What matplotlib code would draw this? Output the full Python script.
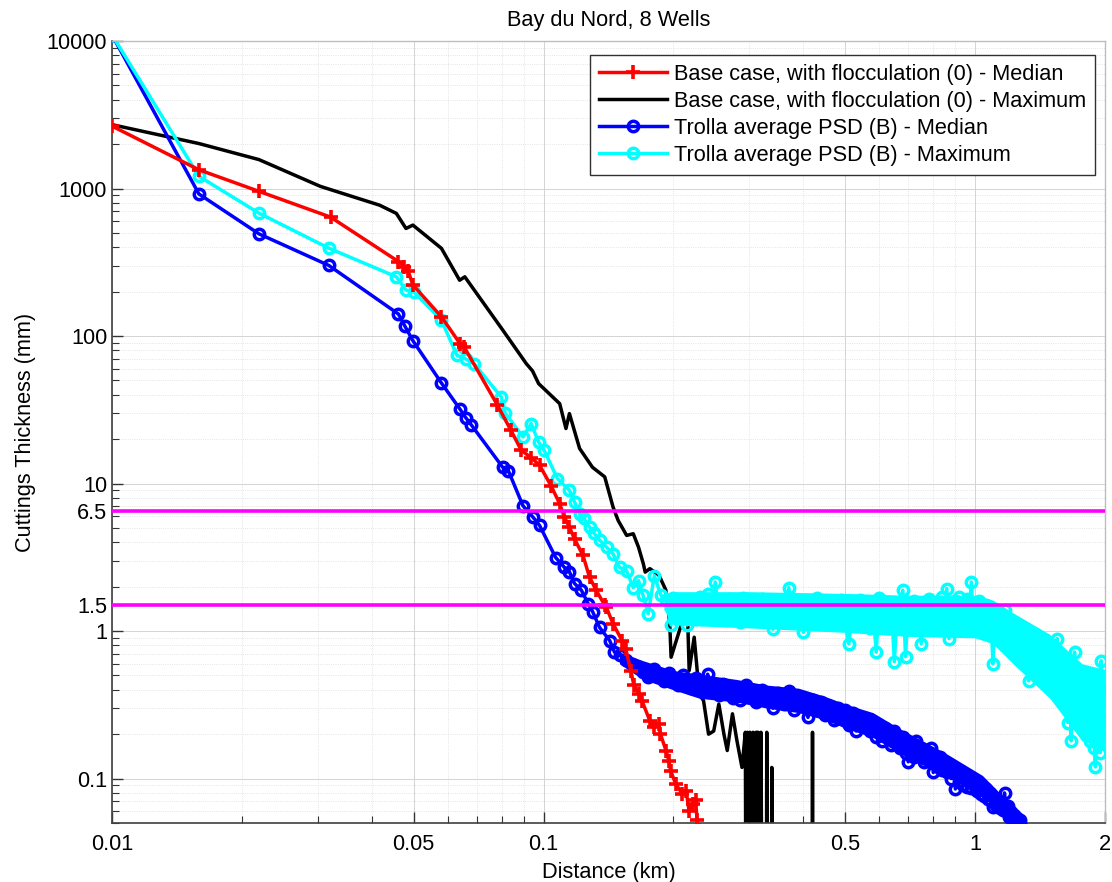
"""Cuttings thickness vs distance, Bay du Nord 8 wells (log-log)."""

import matplotlib
matplotlib.use("Agg")
import matplotlib.pyplot as plt
from matplotlib.ticker import NullFormatter, LogLocator

plt.rcParams["font.family"] = ["Liberation Sans", "DejaVu Sans"]

# ------------------------------------------------------------------
# Data
# ------------------------------------------------------------------

red_x = [0.0100, 0.0159, 0.0219, 0.0321, 0.0461, 0.0476, 0.0486, 0.0498, 0.0580, 0.0640,
         0.0655, 0.0782, 0.0840, 0.0888, 0.0936, 0.0979, 0.1040, 0.1090, 0.1118, 0.1148,
         0.1180, 0.1234, 0.1278, 0.1324, 0.1386, 0.1398, 0.1449, 0.1520, 0.1550, 0.1593,
         0.1620, 0.1663, 0.1690, 0.1763, 0.1806, 0.1850, 0.1866, 0.1922, 0.1952, 0.1970,
         0.2024, 0.2098, 0.2140, 0.2175, 0.2218, 0.2250, 0.2270, 0.2290]
red_y = [2650, 1340, 957, 640, 320, 296, 274, 222, 135, 89,
         84, 34, 23, 16.8, 15.0, 13.3, 9.7, 7.3, 5.9, 5.07,
         4.2, 3.26, 2.32, 1.89, 1.50, 1.45, 1.12, 0.863, 0.759, 0.54,
         0.428, 0.375, 0.338, 0.247, 0.223, 0.235, 0.200, 0.155, 0.132, 0.113,
         0.092, 0.0787, 0.0826, 0.0600, 0.0675, 0.0712, 0.0520, 0.045]

black_x = [0.0100, 0.0159, 0.0219, 0.0304, 0.0417, 0.0456, 0.0480, 0.0498, 0.0580, 0.0639,
           0.0657, 0.0804, 0.0912, 0.0943, 0.0974, 0.1090, 0.1127, 0.1148, 0.1212, 0.1298,
           0.1386, 0.1449, 0.1489, 0.1558, 0.1614, 0.1660, 0.1703, 0.1720, 0.1763, 0.1850,
           0.1920, 0.1960, 0.1975, 0.2084, 0.2158, 0.2175, 0.2234, 0.2270, 0.2290, 0.2348,
           0.2412, 0.2479, 0.2548, 0.2618, 0.2665, 0.2740, 0.2806, 0.2883, 0.2935, 0.2950,
           0.2970, 0.2990, 0.3010, 0.3040, 0.3060, 0.3090, 0.3110, 0.3140, 0.3160, 0.3190,
           0.3220, 0.3280, 0.3290, 0.3310, 0.3370, 0.3380, 0.3400, 0.4180, 0.4200, 0.4220]
black_y = [2710, 2018, 1571, 1034, 771, 678, 536, 565, 393, 239,
           252, 110, 65, 58, 47.6, 34.8, 23.6, 29.8, 17.3, 12.9,
           11.1, 6.93, 5.62, 4.45, 4.57, 3.70, 2.86, 2.51, 2.65, 2.40,
           1.90, 1.15, 0.665, 1.10, 1.18, 0.54, 0.909, 0.54, 0.375, 0.338,
           0.200, 0.210, 0.320, 0.200, 0.155, 0.275, 0.181, 0.119, 0.206, 0.001,
           0.206, 0.001, 0.206, 0.001, 0.206, 0.001, 0.206, 0.206, 0.001, 0.206,
           0.001, 0.001, 0.206, 0.001, 0.001, 0.119, 0.001, 0.001, 0.206, 0.001]

blue_x = [0.0100, 0.0159, 0.0219, 0.0318, 0.0461, 0.0477, 0.0498, 0.0580, 0.0640, 0.0660,
          0.0680, 0.0804, 0.0829, 0.0896, 0.0946, 0.0979, 0.1067, 0.1118, 0.1148, 0.1180,
          0.1224, 0.1269, 0.1300, 0.1348, 0.1423, 0.1460,
          0.150, 0.155, 0.160, 0.165, 0.170, 0.175, 0.180, 0.185, 0.190, 0.195,
          0.200, 0.205, 0.210, 0.215, 0.220, 0.225, 0.230, 0.235, 0.240, 0.245,
          0.250, 0.255, 0.260, 0.265, 0.270, 0.275, 0.280, 0.285, 0.290, 0.295,
          0.300,
          0.31, 0.32, 0.33, 0.34, 0.35, 0.36, 0.37, 0.38, 0.39, 0.40,
          0.41, 0.42, 0.43, 0.44, 0.45, 0.46, 0.47, 0.48, 0.49, 0.50,
          0.51, 0.52, 0.53, 0.54, 0.55, 0.56, 0.57, 0.58, 0.59, 0.60,
          0.61, 0.62, 0.63, 0.64, 0.65, 0.66, 0.67, 0.68, 0.69, 0.70,
          0.71, 0.72, 0.73, 0.74, 0.75, 0.76, 0.77, 0.78, 0.79, 0.80,
          0.81, 0.82, 0.83, 0.84, 0.85, 0.86, 0.87, 0.88, 0.89, 0.90,
          0.91, 0.92, 0.93, 0.94, 0.95, 0.96, 0.97, 0.98, 0.99, 1.00,
          1.01, 1.02, 1.03, 1.04, 1.05, 1.06, 1.07, 1.08, 1.09, 1.10,
          1.11, 1.12, 1.13, 1.14, 1.15, 1.16, 1.17, 1.18, 1.19, 1.20,
          1.21, 1.22, 1.23, 1.24, 1.25, 1.26, 1.27, 1.28]
blue_y = [11000, 918, 493, 301, 141, 117, 93, 48, 32, 28,
          25, 12.9, 12.2, 7.07, 5.9, 5.2, 3.15, 2.7, 2.52, 2.1,
          1.89, 1.53, 1.35, 1.06, 0.863, 0.72,
          0.69, 0.64, 0.60, 0.57, 0.53, 0.49, 0.55, 0.50, 0.46, 0.52,
          0.47, 0.43, 0.50, 0.44, 0.41, 0.48, 0.42, 0.39, 0.51, 0.44,
          0.41, 0.37, 0.44, 0.38, 0.42, 0.35, 0.40, 0.34, 0.39, 0.43,
          0.37,
          0.33, 0.40, 0.35, 0.30, 0.38, 0.32, 0.39, 0.29, 0.36, 0.31,
          0.26, 0.34, 0.29, 0.33, 0.27, 0.31, 0.25, 0.30, 0.27, 0.29,
          0.23, 0.28, 0.21, 0.26, 0.23, 0.25, 0.21, 0.24, 0.19, 0.23,
          0.18, 0.22, 0.19, 0.17, 0.21, 0.18, 0.16, 0.19, 0.15, 0.13,
          0.17, 0.14, 0.18, 0.15, 0.16, 0.13, 0.155, 0.14, 0.16, 0.11,
          0.135, 0.12, 0.14, 0.115, 0.13, 0.11, 0.125, 0.10, 0.12, 0.085,
          0.11, 0.095, 0.107, 0.09, 0.105, 0.088, 0.10, 0.086, 0.097, 0.09,
          0.083, 0.092, 0.079, 0.089, 0.076, 0.085, 0.073, 0.08, 0.07, 0.064,
          0.074, 0.066, 0.071, 0.063, 0.069, 0.061, 0.08, 0.06, 0.065, 0.055,
          0.059, 0.053, 0.057, 0.051, 0.054, 0.05, 0.052, 0.048]

cyan_x = [0.0100, 0.0159, 0.0219, 0.0318, 0.0456, 0.0480, 0.0500, 0.0580, 0.0630, 0.0660,
          0.0690, 0.0798, 0.0815, 0.0896, 0.0936, 0.0974, 0.1003, 0.1077, 0.1148, 0.1180,
          0.1212, 0.1240, 0.1278, 0.1310, 0.1350, 0.1400, 0.1449, 0.1500, 0.1558, 0.1614,
          0.1660, 0.1700, 0.1748, 0.1806, 0.1870, 0.1922, 0.1975,
          0.200, 0.205, 0.210, 0.215, 0.220, 0.225, 0.230, 0.235, 0.240, 0.245,
          0.250, 0.255, 0.260, 0.265, 0.270, 0.275, 0.280, 0.285, 0.290, 0.295,
          0.300,
          0.31, 0.32, 0.33, 0.34, 0.35, 0.36, 0.37, 0.38, 0.39, 0.40,
          0.41, 0.42, 0.43, 0.44, 0.45, 0.46, 0.47, 0.48, 0.49, 0.50,
          0.51, 0.52, 0.53, 0.54, 0.55, 0.56, 0.57, 0.58, 0.59, 0.60,
          0.61, 0.62, 0.63, 0.64, 0.65, 0.66, 0.67, 0.68, 0.69, 0.70,
          0.71, 0.72, 0.73, 0.74, 0.75, 0.76, 0.77, 0.78, 0.79, 0.80,
          0.81, 0.82, 0.83, 0.84, 0.85, 0.86, 0.87, 0.88, 0.89, 0.90,
          0.91, 0.92, 0.93, 0.94, 0.95, 0.96, 0.97, 0.98, 0.99, 1.00,
          1.01, 1.02, 1.03, 1.04, 1.05, 1.06, 1.07, 1.08, 1.09, 1.10,
          1.11, 1.12, 1.13, 1.14, 1.15, 1.16, 1.17, 1.18, 1.19, 1.20,
          1.21, 1.22, 1.23, 1.24, 1.25, 1.26, 1.27, 1.28, 1.29, 1.30,
          1.31, 1.32, 1.33, 1.34, 1.35, 1.36, 1.37, 1.38, 1.39, 1.40,
          1.41, 1.42, 1.43, 1.44, 1.45, 1.46, 1.47, 1.48, 1.49, 1.50,
          1.51, 1.52, 1.53, 1.54, 1.55, 1.56, 1.57, 1.58, 1.59, 1.60,
          1.61, 1.62, 1.63, 1.64, 1.65, 1.66, 1.67, 1.68, 1.69, 1.70,
          1.71, 1.72, 1.73, 1.74, 1.75, 1.76, 1.77, 1.78, 1.79, 1.80,
          1.81, 1.82, 1.83, 1.84, 1.85, 1.86, 1.87, 1.88, 1.89, 1.90,
          1.91, 1.92, 1.93, 1.94, 1.95, 1.96, 1.97, 1.98, 1.99, 2.00]
cyan_y = [11000, 1210, 681, 394, 252, 205, 200, 128, 74, 70,
          65, 38.6, 30.0, 20.7, 25.5, 19.1, 16.8, 10.8, 9.0, 7.5,
          6.25, 5.8, 5.07, 4.6, 4.12, 3.7, 3.34, 2.70, 2.56, 1.97,
          2.20, 1.75, 1.31, 2.38, 1.75, 1.62, 1.10,
          1.68, 1.25, 1.58, 1.10, 1.45, 1.20, 1.70, 1.30, 1.77, 1.35,
          2.15, 1.25, 1.60, 1.18, 1.65, 1.30, 1.52, 1.15, 1.68, 1.28,
          1.55,
          1.20, 1.65, 1.28, 1.03, 1.55, 1.22, 1.97, 1.25, 1.60, 0.98,
          1.50, 1.18, 1.68, 1.30, 1.55, 1.15, 1.45, 1.22, 1.62, 1.12,
          0.82, 1.45, 1.53, 1.62, 1.15, 1.50, 1.05, 1.40, 0.72, 1.68,
          1.20, 1.55, 1.05, 1.45, 0.62, 1.35, 1.10, 1.89, 0.67, 1.50,
          1.15, 1.60, 1.05, 1.45, 0.82, 1.40, 1.20, 1.65, 1.10, 1.55,
          1.15, 1.53, 1.25, 1.70, 1.05, 1.94, 0.89, 1.45, 1.20, 1.60,
          1.10, 1.70, 1.25, 1.55, 1.15, 1.65, 1.30, 2.15, 1.25, 1.55,
          1.20, 1.60, 1.18, 1.45, 1.05, 1.50, 0.95, 1.38, 1.10, 0.60,
          1.30, 0.95, 1.35, 1.00, 1.25, 0.85, 1.38, 0.90, 1.15, 0.80,
          1.15, 0.75, 1.05, 0.91, 0.70, 1.10, 0.80, 0.95, 0.65, 0.90,
          0.60, 0.88, 0.46, 0.80, 0.62, 0.85, 0.55, 0.78, 0.50, 0.75,
          0.55, 0.80, 0.63, 0.48, 0.72, 0.52, 0.75, 0.45, 0.68, 0.50,
          0.70, 0.42, 0.65, 0.48, 0.89, 0.40, 0.62, 0.38, 0.58, 0.56,
          0.35, 0.55, 0.30, 0.24, 0.52, 0.32, 0.18, 0.48, 0.28, 0.72,
          0.33, 0.50, 0.26, 0.45, 0.29, 0.42, 0.22, 0.46, 0.27, 0.38,
          0.20, 0.46, 0.25, 0.40, 0.18, 0.35, 0.22, 0.42, 0.16, 0.12,
          0.30, 0.45, 0.20, 0.38, 0.15, 0.63, 0.25, 0.40, 0.22, 0.34]

# solid core of the overlapping markers (lower / upper edge)
blue_band_x = [0.150, 0.170, 0.200, 0.230, 0.280, 0.330, 0.390, 0.450, 0.500,
               0.580, 0.665, 0.730, 0.850, 1.040, 1.150, 1.240, 1.280]
blue_band_lo = [0.60, 0.47, 0.40, 0.35, 0.33, 0.30, 0.28, 0.25, 0.22,
                0.19, 0.15, 0.13, 0.105, 0.075, 0.060, 0.052, 0.050]
blue_band_hi = [0.72, 0.63, 0.54, 0.51, 0.47, 0.43, 0.41, 0.36, 0.32,
                0.28, 0.22, 0.19, 0.15, 0.105, 0.078, 0.064, 0.056]

cyan_band_x = [0.190, 0.200, 0.300, 0.500, 0.700, 1.000, 1.100, 1.240, 1.490, 1.770, 2.000]
cyan_band_lo = [1.40, 1.10, 1.05, 0.98, 0.92, 0.90, 0.82, 0.58, 0.35, 0.18, 0.16]
cyan_band_hi = [1.80, 1.85, 1.85, 1.80, 1.75, 1.75, 1.62, 1.30, 0.95, 0.60, 0.55]

threshold_levels = [6.5, 1.5]

x_ticks = [0.01, 0.05, 0.1, 0.5, 1, 2]
x_tick_labels = ["0.01", "0.05", "0.1", "0.5", "1", "2"]
y_ticks = [0.1, 1, 1.5, 6.5, 10, 100, 1000, 10000]
y_tick_labels = ["0.1", "1", "1.5", "6.5", "10", "100", "1000", "10000"]

labels = [
    "Base case, with flocculation (0) - Median",
    "Base case, with flocculation (0) - Maximum",
    "Trolla average PSD (B) - Median",
    "Trolla average PSD (B) - Maximum",
]

# ------------------------------------------------------------------
# Figure
# ------------------------------------------------------------------

W, H = 1112, 882
FS = 15.7
BLUE = (0, 0, 1)
CYAN = (0, 1, 1)
fig = plt.figure(figsize=(W / 100, H / 100), dpi=100)
ax = fig.add_axes([112 / W, 59 / H, 993 / W, 782 / H])
ax.set_xscale("log")
ax.set_yscale("log")

lw = 2.5
ax.plot(red_x, red_y, color=(1, 0, 0), lw=lw, marker="+", ms=9.5, mew=2.6,
        label=labels[0], zorder=3)
ax.plot(black_x, black_y, color="black", lw=lw, label=labels[1], zorder=2.4)

ax.fill_between(blue_band_x, blue_band_lo, blue_band_hi, color=BLUE, lw=0, zorder=2.5)
ax.plot(blue_x, blue_y, color=BLUE, lw=lw, marker="o", ms=7.5, mew=2.5,
        mfc="none", label=labels[2], zorder=2.6)
ax.fill_between(cyan_band_x, cyan_band_lo, cyan_band_hi, color=CYAN, lw=0, zorder=2.7)
ax.plot(cyan_x, cyan_y, color=CYAN, lw=lw, marker="o", ms=7.5, mew=2.5,
        mfc="none", label=labels[3], zorder=2.8)

for level in threshold_levels:
    ax.axhline(level, color=(1, 0, 1), lw=2.6, zorder=4)

ax.set_xlim(0.01, 2)
ax.set_ylim(0.05, 10000)

ax.set_xticks(x_ticks)
ax.set_xticklabels(x_tick_labels)
ax.set_yticks(y_ticks)
ax.set_yticklabels(y_tick_labels)
ax.xaxis.set_minor_locator(LogLocator(base=10, subs=range(2, 10), numticks=20))
ax.yaxis.set_minor_locator(LogLocator(base=10, subs=range(2, 10), numticks=20))
ax.xaxis.set_minor_formatter(NullFormatter())
ax.yaxis.set_minor_formatter(NullFormatter())

ax.tick_params(which="both", direction="in", labelsize=FS, colors="#333333",
               labelcolor="black")
ax.tick_params(which="major", length=8, width=1)
ax.tick_params(which="minor", length=5, width=0.8)
ax.tick_params(axis="x", pad=8)

ax.grid(which="major", color="#d4d4d4", lw=0.7, ls="-", zorder=0)
ax.grid(which="minor", color="#dcdcdc", lw=0.6, ls=":", zorder=0)
ax.set_axisbelow(True)

for side in ["left", "bottom"]:
    ax.spines[side].set_color("#404040")
    ax.spines[side].set_linewidth(1.2)
for side in ["top", "right"]:
    ax.spines[side].set_color("#bdbdbd")
    ax.spines[side].set_linewidth(1.0)

ax.set_xlabel("Distance (km)", fontsize=FS, labelpad=5)
ax.set_ylabel("Cuttings Thickness (mm)", fontsize=FS, labelpad=8)
ax.set_title("Bay du Nord, 8 Wells", fontsize=FS, pad=11)

leg = ax.legend(loc="upper right", bbox_to_anchor=(0.990, 0.982), fontsize=FS,
                frameon=True, fancybox=False, framealpha=1, edgecolor="#303030",
                numpoints=1, handlelength=3.1, handletextpad=0.35,
                labelspacing=0.28, borderpad=0.4, borderaxespad=0)
leg.get_frame().set_linewidth(1.0)

fig.savefig("out.png", dpi=100)
